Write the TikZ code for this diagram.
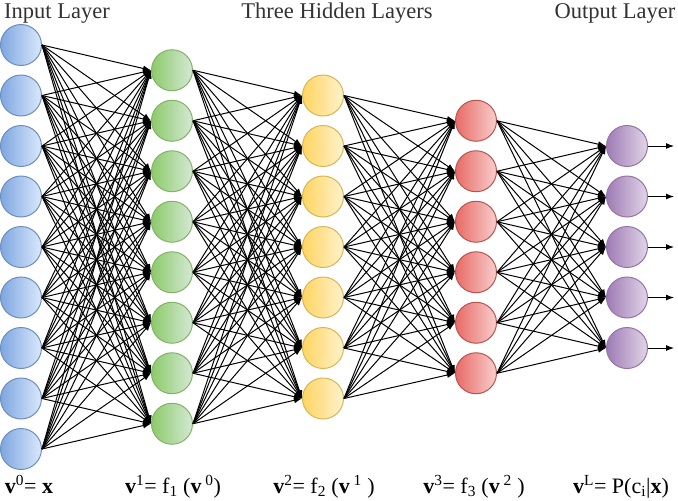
\documentclass[tikz,border=0pt]{standalone}
\usepackage{fontspec}
\setmainfont{Liberation Serif}
\usetikzlibrary{arrows.meta}
\definecolor{bluedark}{HTML}{7EA6E0}
\definecolor{bluelight}{HTML}{DAE8FC}
\definecolor{blueline}{HTML}{6C8EBF}
\definecolor{greendark}{HTML}{8CCB6A}
\definecolor{greenlight}{HTML}{D5E8D4}
\definecolor{greenline}{HTML}{82B366}
\definecolor{yellowdark}{HTML}{FFD561}
\definecolor{yellowlight}{HTML}{FFF2CC}
\definecolor{yellowline}{HTML}{D6B656}
\definecolor{reddark}{HTML}{E86A66}
\definecolor{redlight}{HTML}{F8CECC}
\definecolor{redline}{HTML}{B85450}
\definecolor{purpledark}{HTML}{9E7BB5}
\definecolor{purplelight}{HTML}{E1D5E7}
\definecolor{purpleline}{HTML}{9673A6}
\tikzset{
  neuron/.style={circle, minimum size=41pt, inner sep=0pt, line width=1pt},
  inputn/.style={neuron, draw=blueline, left color=bluedark, right color=bluelight},
  hidA/.style={neuron, draw=greenline, left color=greendark, right color=greenlight},
  hidB/.style={neuron, draw=yellowline, left color=yellowdark, right color=yellowlight},
  hidC/.style={neuron, draw=redline, left color=reddark, right color=redlight},
  outn/.style={neuron, draw=purpleline, left color=purpledark, right color=purplelight},
  conn/.style={line width=1pt, -{Latex[length=8pt,width=6pt]}},
  title/.style={font=\fontsize{22.5}{24}\selectfont, anchor=base, text=black!80, inner sep=0pt},
  eq/.style={font=\fontsize{22}{24}\selectfont, anchor=base, inner sep=0pt},
}
\begin{document}
\begin{tikzpicture}[x=1pt,y=-1pt]
\useasboundingbox (0,0) rectangle (678,501);
% layers
\foreach \i in {1,...,9} \node[inputn] (a\i) at (21,{247+(\i-5)*50.5}) {};
\foreach \i in {1,...,8} \node[hidA] (b\i) at (172,{247+(\i-4.5)*50.5}) {};
\foreach \i in {1,...,7} \node[hidB] (c\i) at (323,{247+(\i-4)*50.5}) {};
\foreach \i in {1,...,6} \node[hidC] (d\i) at (476,{247+(\i-3.5)*50.5}) {};
\foreach \i in {1,...,5} \node[outn] (e\i) at (627,{247+(\i-3)*50.5}) {};
% output ends
\foreach \i in {1,...,5} \coordinate (o\i) at ([xshift=26pt]e\i.east);
% connections
\foreach \i in {1,...,9} \foreach \j in {1,...,8} \draw[conn] (a\i.east) -- (b\j.west);
\foreach \i in {1,...,8} \foreach \j in {1,...,7} \draw[conn] (b\i.east) -- (c\j.west);
\foreach \i in {1,...,7} \foreach \j in {1,...,6} \draw[conn] (c\i.east) -- (d\j.west);
\foreach \i in {1,...,6} \foreach \j in {1,...,5} \draw[conn] (d\i.east) -- (e\j.west);
\foreach \i in {1,...,5} \draw[conn] (e\i.east) -- (o\i);
% titles
\node[title] (t1) at (57,18) {Input Layer};
\node[title] (t2) at (337,18) {Three Hidden Layers};
\node[title] (t3) at (615,18) {Output Layer};
% equations
\node[eq] (q0) at (29,493) {\textbf{v}\textsuperscript{0}= \textbf{x}};
\node[eq] (q1) at (173,493) {\textbf{v}\textsuperscript{1}= f\textsubscript{1} (\textbf{v}\textsuperscript{ 0})};
\node[eq] (q2) at (324,493) {\textbf{v}\textsuperscript{2}= f\textsubscript{2} (\textbf{v}\textsuperscript{ 1} )};
\node[eq] (q3) at (474,493) {\textbf{v}\textsuperscript{3}= f\textsubscript{3} (\textbf{v}\textsuperscript{ 2} )};
\node[eq] (q4) at (621,493) {\textbf{v}\textsuperscript{L}= P(c\textsubscript{i}|\textbf{x})};
\end{tikzpicture}
\end{document}
